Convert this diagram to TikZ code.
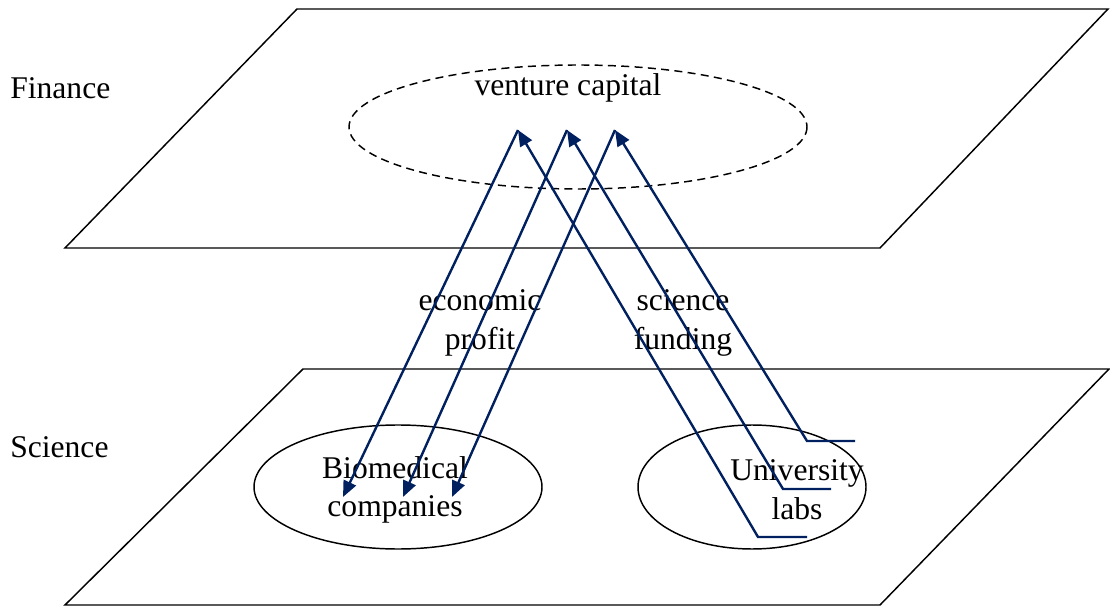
\documentclass[tikz,border=0pt]{standalone}
\usepackage{fontspec}
\setmainfont{Liberation Serif}
\usetikzlibrary{arrows.meta}
\definecolor{navy}{RGB}{0,32,96}
\tikzset{
  plane/.style={draw=black, line width=1.1pt},
  region/.style={draw=black, line width=1.1pt},
  flow/.style={draw=navy, line width=1.8pt, -{Triangle[length=12pt,width=10pt]}},
  lbl/.style={align=center, font=\fontsize{23.7}{29}\selectfont, inner sep=0pt},
}

\begin{document}
\begin{tikzpicture}[x=0.75pt,y=-0.75pt]
\useasboundingbox (0,0) rectangle (1110,609);
% planes
\draw[plane] (297,9) -- (1108,9) -- (880,248) -- (65,248) -- cycle;
\draw[plane] (303,369) -- (1109,369) -- (880,605) -- (65,605) -- cycle;
% regions
\draw[region, dash pattern=on 6pt off 4pt] (578,127) ellipse [x radius=229, y radius=62];
\draw[region] (398,487) ellipse [x radius=144, y radius=62];
\draw[region] (752,487) ellipse [x radius=114, y radius=62];
% labels
\node[lbl, anchor=west] (fin) at (10,88) {Finance};
\node[lbl, anchor=west] (sci) at (10,447) {Science};
\node[lbl] (vc) at (568,88) {venture capital};
\node[lbl] (bio) at (395,490) {Biomedical\\companies};
\node[lbl] (lab) at (797,490) {University\\labs};
\node[lbl] (profit) at (480,323) {economic\\profit};
\node[lbl] (fund) at (683,323) {science\\funding};
% flows
\coordinate (t1) at (518,130);
\coordinate (t2) at (567,130);
\coordinate (t3) at (615,130);
\coordinate (b1) at (343,497);
\coordinate (b2) at (403,497);
\coordinate (b3) at (452,497);
\coordinate (s1) at (855,441);
\coordinate (k1) at (807,441);
\coordinate (s2) at (831,489);
\coordinate (k2) at (783,489);
\coordinate (s3) at (807,537);
\coordinate (k3) at (758,537);
\draw[flow] (t1) -- (b1);
\draw[flow] (t2) -- (b2);
\draw[flow] (t3) -- (b3);
\draw[flow] (s1) -- (k1) -- (t3);
\draw[flow] (s2) -- (k2) -- (t2);
\draw[flow] (s3) -- (k3) -- (t1);
\end{tikzpicture}
\end{document}
